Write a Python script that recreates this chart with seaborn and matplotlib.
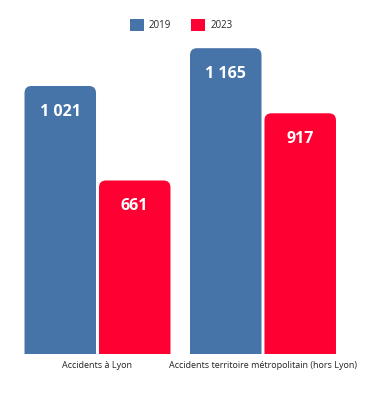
import matplotlib
matplotlib.use("Agg")
import matplotlib.pyplot as plt
import seaborn as sns
import pandas as pd
from matplotlib.patches import FancyBboxPatch, Patch

categories = ["Accidents à Lyon", "Accidents territoire métropolitain (hors Lyon)"]
years = ["2019", "2023"]
values_2019 = [1021, 1165]
values_2023 = [661, 917]
value_labels_2019 = ["1 021", "1 165"]
value_labels_2023 = ["661", "917"]
colors = {"2019": "#4673A8", "2023": "#FF0033"}

df = pd.DataFrame({
    "cat": categories * 2,
    "year": [years[0]] * 2 + [years[1]] * 2,
    "val": values_2019 + values_2023,
})

sns.set_theme(style="white")
plt.rcParams["font.family"] = ["Open Sans", "DejaVu Sans"]

fig = plt.figure(figsize=(3.78, 3.95), dpi=100)
ax = fig.add_axes([0, 41 / 395, 1, 334 / 395])
sns.barplot(data=df, x="cat", y="val", hue="year", palette=colors,
            width=0.9, gap=0.04, ax=ax, legend=False, saturation=1)

ax.set_xlim(-97.5 / 165.5, (378 - 97.5) / 165.5)
ax.set_ylim(0, 1272.4)

# rounded top corners
px_per_x = 165.5
px_per_y = 334 / 1272.4
aspect = px_per_x / px_per_y
r = 7 / px_per_x
for p in list(ax.patches):
    x, y = p.get_x(), p.get_y()
    w, h = p.get_width(), p.get_height()
    fc = p.get_facecolor()
    p.set_visible(False)
    fb = FancyBboxPatch((x, y - 50), w, h + 50,
                        boxstyle=f"round,pad=0,rounding_size={r}",
                        mutation_aspect=aspect, facecolor=fc,
                        edgecolor="none", clip_on=True)
    ax.add_patch(fb)

# value labels
for i, (vals, labs) in enumerate([(values_2019, value_labels_2019),
                                  (values_2023, value_labels_2023)]):
    cont = ax.containers[i]
    for bar, v, lab in zip(cont, vals, labs):
        cx = bar.get_x() + bar.get_width() / 2
        ax.text(cx, v - 26 / px_per_y, lab, ha="center", va="center",
                color="white", fontsize=11.5, fontweight="bold")

ax.set_xlabel("")
ax.set_ylabel("")
ax.set_yticks([])
ax.tick_params(axis="x", length=0, pad=5, labelsize=6.5, colors="#222222")
for s in ax.spines.values():
    s.set_visible(False)

handles = [Patch(facecolor=colors[y], edgecolor="none") for y in years]
fig.legend(handles, years, loc="center", ncol=2,
           bbox_to_anchor=(181 / 378, 1 - 25 / 395), frameon=False,
           fontsize=7, handlelength=1.5, handleheight=1.5,
           handletextpad=0.5, columnspacing=2.0)

fig.savefig("out.png", dpi=100)
